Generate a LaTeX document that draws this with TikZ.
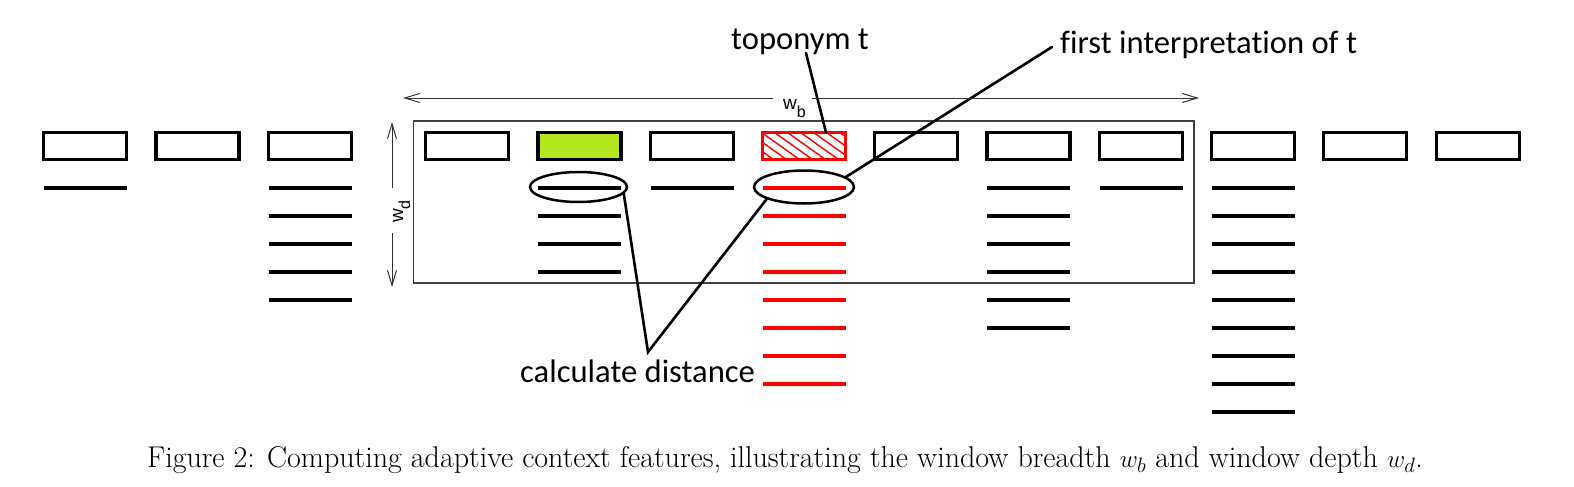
\documentclass[tikz,border=0pt]{standalone}
\usepackage{fontspec}
\newfontfamily\calibri[Ligatures=CommonOff]{Carlito}
\newfontfamily\arialf{Liberation Sans}
\usetikzlibrary{shapes.geometric,arrows.meta,calc}
\definecolor{limefill}{HTML}{B5E61D}
\definecolor{framegray}{HTML}{404040}
\newcommand\tokdashes[3]{%
  \foreach \k in {1,...,#2}
    \draw[dashln,#3] ($(#1.west)+(0,14+28*\k)$) -- ($(#1.east)+(0,14+28*\k)$);}
\begin{document}
\begin{tikzpicture}[x=1pt,y=-1pt,
  tok/.style={draw, line width=3.2pt, minimum width=83pt, minimum height=27pt, inner sep=0pt, outer sep=0pt},
  dashln/.style={line width=3.5pt},
  ring/.style={ellipse, draw, line width=2.5pt, inner sep=0pt, outer sep=0pt},
  conn/.style={line width=2.6pt, line cap=round},
  dim/.style={line width=1pt, draw=black!80, -{Straight Barb[length=15pt,width=9pt,line width=1pt]}},
  lbl/.style={inner sep=0pt, font=\calibri\fontsize{32.6}{38}\selectfont},
  dimlbl/.style={inner sep=0pt, font=\arialf\fontsize{19}{22}\selectfont}]
\useasboundingbox (0,0) rectangle (1574,487);
% window frame
\node[draw=framegray, line width=1.3pt, minimum width=780.5pt, minimum height=162pt, inner sep=0pt, outer sep=0pt] (window) at (803.75,202) {};
% token boxes
\foreach \n/\l in {1/42,2/154.5,3/267,4/424,5/536.5,6/649,8/873,9/985.5,10/1098,11/1210,12/1322,13/1435}
  \node[tok] (b\n) at (\l+43,146) {};
\node[tok, fill=limefill] (b5) at (579.5,146) {};
\node[tok, draw=red] (b7) at (804,146) {};
\begin{scope}
  \clip (b7.north west) rectangle (b7.south east);
  \foreach \i in {-40,-27,...,90}
    \draw[red, line width=1.4pt] ($(b7.north west)+(\i,0)$) -- ++(38,27);
\end{scope}
\node[tok, draw=red] at (b7) {};
% interpretation dashes
\tokdashes{b1}{1}{}
\tokdashes{b3}{5}{}
\tokdashes{b5}{4}{}
\tokdashes{b6}{1}{}
\tokdashes{b7}{8}{red}
\tokdashes{b9}{6}{}
\tokdashes{b10}{1}{}
\tokdashes{b11}{9}{}
% ellipses
\node[ring, minimum width=97pt, minimum height=30pt] (e1) at (578.5,187) {};
\node[ring, minimum width=100pt, minimum height=33pt] (e2) at (804,187) {};
% labels
\node[lbl, anchor=base west] (topo) at (731,49) {toponym t};
\node[lbl, anchor=base west] (first) at (1060,54) {first interpretation of t};
\node[lbl, anchor=base west] (calcd) at (520,382) {calculate distance};
\coordinate (topoA) at (806,53);
\coordinate (firstA) at (1052,47);
\coordinate (apex) at (648,352);
\draw[conn] (topoA) -- ($(b7.north)+(22,0)$);
\draw[conn] (e2.13) -- (firstA);
\draw[conn] (e1.-7) -- (apex) -- (e2.197);
% window breadth
\coordinate (wbL) at (403,98);
\coordinate (wbR) at (1199,98);
\node[dimlbl, anchor=base west] (wb) at (783,110) {w\raisebox{-7pt}{\fontsize{16}{16}\selectfont b}};
\draw[dim] ([xshift=-10pt]wb.west |- wbL) -- (wbL);
\draw[dim] ([xshift=6pt]wb.east |- wbR) -- (wbR);
% window depth
\coordinate (wdT) at (392,122);
\coordinate (wdB) at (392,287);
\node[dimlbl, anchor=base west, rotate=90] (wd) at (403,223) {w\raisebox{-7pt}{\fontsize{16}{16}\selectfont d}};
\draw[dim] (392,188) -- (wdT);
\draw[dim] (392,233) -- (wdB);
% caption
\node[inner sep=0pt, anchor=base west] (cap) at (147,467) {\fontsize{30}{36}\selectfont Figure 2: Computing adaptive context features, illustrating the window breadth $w_b$ and window depth $w_d$.};
\end{tikzpicture}
\end{document}
